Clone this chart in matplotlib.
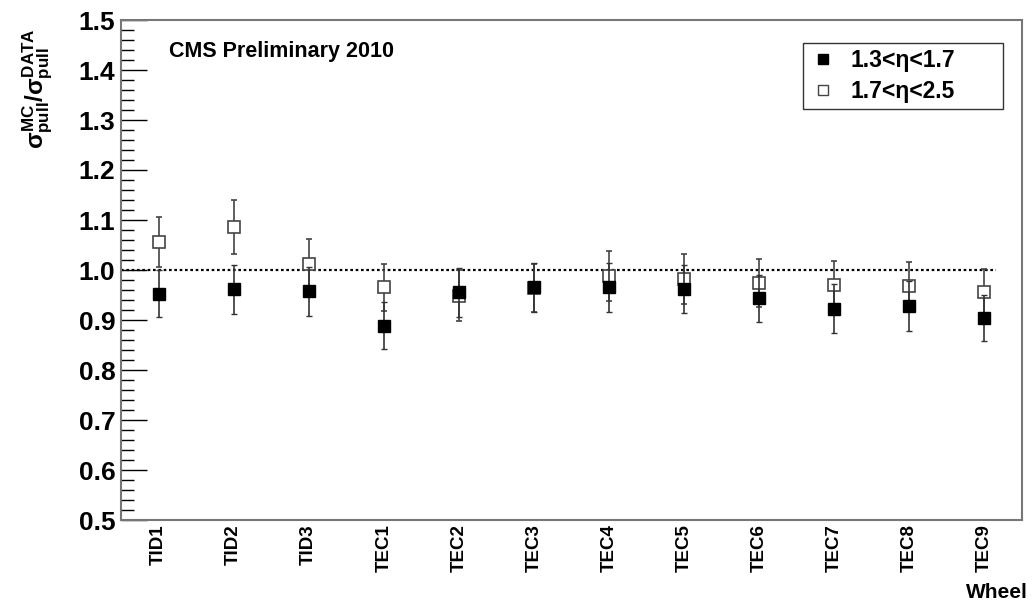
import matplotlib
matplotlib.use("Agg")
import matplotlib.pyplot as plt
from matplotlib.lines import Line2D
from matplotlib.ticker import MultipleLocator

plt.rcParams['font.family'] = ['Liberation Sans', 'DejaVu Sans']
plt.rcParams['font.weight'] = 'bold'
plt.rcParams['mathtext.fontset'] = 'custom'
plt.rcParams['mathtext.rm'] = 'Liberation Sans:bold'
plt.rcParams['mathtext.it'] = 'Liberation Sans:bold'
plt.rcParams['mathtext.bf'] = 'Liberation Sans:bold'

categories = ["TID1", "TID2", "TID3", "TEC1", "TEC2", "TEC3",
              "TEC4", "TEC5", "TEC6", "TEC7", "TEC8", "TEC9"]
# 1.3 < eta < 1.7 (filled)
low_vals = [0.953, 0.962, 0.958, 0.889, 0.956, 0.966,
            0.966, 0.962, 0.944, 0.923, 0.928, 0.904]
low_errs = [0.047, 0.049, 0.049, 0.047, 0.049, 0.049,
            0.049, 0.048, 0.047, 0.048, 0.049, 0.046]
# 1.7 < eta < 2.5 (open)
high_vals = [1.056, 1.086, 1.012, 0.966, 0.949, 0.965,
             0.989, 0.982, 0.974, 0.970, 0.968, 0.956]
high_errs = [0.051, 0.055, 0.050, 0.047, 0.051, 0.048,
             0.050, 0.050, 0.048, 0.049, 0.049, 0.046]

fig = plt.figure(figsize=(10.32, 6.04), dpi=100)
ax = fig.add_axes([121/1032, 84/604, 901/1032, 500/604])

x = [i + 0.5 for i in range(len(categories))]

ax.errorbar(x, high_vals, yerr=high_errs, fmt='s', ms=8, mfc='white',
            mec='#444444', mew=1.2, ecolor='#444444', elinewidth=1.2,
            capsize=2, capthick=1.2, zorder=3)
ax.errorbar(x, low_vals, yerr=low_errs, fmt='s', ms=8, mfc='black',
            mec='black', mew=1.0, ecolor='#333333', elinewidth=1.2,
            capsize=2, capthick=1.2, zorder=4)

ax.plot([0, 11.65], [1.0, 1.0], color='black', ls=(0, (1.2, 1.2)), lw=1.6, zorder=2)

ax.set_xlim(0, 12)
ax.set_ylim(0.5, 1.5)
ax.yaxis.set_major_locator(MultipleLocator(0.1))
ax.yaxis.set_minor_locator(MultipleLocator(0.02))
ax.set_yticks([0.5 + 0.1 * i for i in range(11)])
ax.set_yticklabels([f"{0.5 + 0.1 * i:.1f}" for i in range(11)])
ax.tick_params(axis='y', which='major', direction='in', length=19, width=1,
               labelsize=19, pad=4, right=False)
ax.tick_params(axis='y', which='minor', direction='in', length=9, width=1, right=False)

ax.set_xticks(x)
ax.set_xticklabels(categories, rotation=90, fontsize=13.5, fontweight='bold', va='top')
ax.tick_params(axis='x', which='both', length=0, pad=3)

for s in ax.spines.values():
    s.set_color('#777777')
    s.set_linewidth(1.5)

ax.text(0.053, 0.926, "CMS Preliminary 2010", transform=ax.transAxes,
        fontsize=15.5, fontweight='bold', ha='left', va='baseline')

fig.text(1028/1032, 1 - 598/604, "Wheel", fontsize=15, fontweight='bold',
         ha='right', va='baseline')

fig.text(38/1032, 1 - 28/604,
         r'$\sigma^{MC}_{pull}/\sigma^{DATA}_{pull}$',
         rotation=90, fontsize=17.5, ha='center', va='top')

handles = [Line2D([], [], marker='s', ls='none', ms=7, mfc='black', mec='black'),
           Line2D([], [], marker='s', ls='none', ms=7, mfc='white', mec='#444444')]
leg = ax.legend(handles, ["1.3<η<1.7", "1.7<η<2.5"], loc='upper left',
                bbox_to_anchor=(0.757, 0.954, 0.222, 0.0), mode='expand',
                fontsize=16.5, frameon=True, fancybox=False, edgecolor='black',
                borderpad=0.25, handletextpad=0.6, handlelength=1.2,
                labelspacing=0.38, borderaxespad=0)
leg.get_frame().set_linewidth(1.0)
for t in leg.get_texts():
    t.set_fontweight('bold')

fig.savefig("out.png", dpi=100)
